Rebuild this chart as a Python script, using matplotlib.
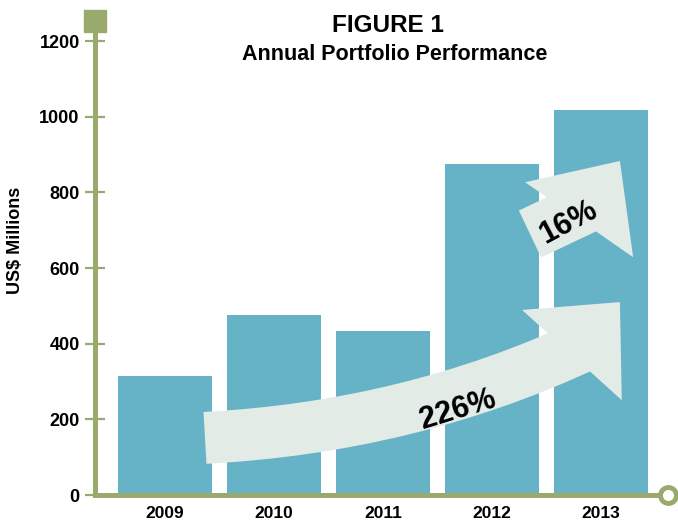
import matplotlib
matplotlib.use('Agg')
import matplotlib.pyplot as plt
from matplotlib.patches import FancyArrowPatch

years = ['2009', '2010', '2011', '2012', '2013']
values = [315, 476, 433, 875, 1018]
yticks = [0, 200, 400, 600, 800, 1000, 1200]
growth_labels = ['226%', '16%']

plt.rcParams['font.family'] = ['Liberation Sans', 'DejaVu Sans']
plt.rcParams['font.weight'] = 'bold'

bar_col = '#66B2C6'
green = '#9AAA6C'
arrow_col = '#E2EBE6'

fig = plt.figure(figsize=(6.78, 5.21), dpi=100)
ax = fig.add_axes([95/678, 26/521, (668-95)/678, (495-21)/521])

x = list(range(len(years)))
ax.bar(x, values, width=0.86, color=bar_col, zorder=1)
ax.set_xlim(-0.642, 4.615)
ax.set_ylim(0, 1253)

for s in ['top', 'right']:
    ax.spines[s].set_visible(False)
for s in ['left', 'bottom']:
    ax.spines[s].set_color(green)
    ax.spines[s].set_linewidth(3.6)
    ax.spines[s].set_zorder(3)

ax.set_yticks(yticks)
ax.set_yticklabels([str(t) for t in yticks], fontsize=13, fontweight='bold')
ax.tick_params(axis='y', direction='inout', length=14, width=1.6, color=green, pad=4)
ax.set_xticks(x)
ax.set_xticklabels(years, fontsize=12.5, fontweight='bold')
ax.tick_params(axis='x', length=0, pad=8)

# axis end decorations
ax.plot([0], [1], marker='s', ms=16, color=green, transform=ax.transAxes,
        clip_on=False, zorder=4)
ax.plot([1], [0], marker='o', ms=11.5, mfc='white', mec=green, mew=3.5,
        transform=ax.transAxes, clip_on=False, zorder=4)


def growth_arrow(start, neck, head_base, tip, conn, head_w):
    # thick shaft + a separate straight triangular head
    shaft = FancyArrowPatch(start, neck, arrowstyle='-', connectionstyle=conn,
                            shrinkA=0, shrinkB=0, color=arrow_col, lw=37.4,
                            capstyle='butt', zorder=2)
    ax.add_patch(shaft)
    head = FancyArrowPatch(head_base, tip,
                           arrowstyle='simple,head_length=51.5,head_width=%g,tail_width=1' % head_w,
                           mutation_scale=1, shrinkA=0, shrinkB=0,
                           color=arrow_col, lw=0, zorder=2)
    ax.add_patch(head)


growth_arrow((0.367, 151), (3.853, 396), (3.734, 370), (4.174, 510),
             'angle3,angleA=3,angleB=25', 96.8)
growth_arrow((3.349, 690), (3.853, 759), (3.798, 727), (4.174, 883),
             'arc3,rad=0', 94.7)

ax.text(2.688, 225, growth_labels[0], fontsize=22, fontweight='bold',
        rotation=17, ha='center', va='center', zorder=5)
ax.text(3.697, 719, growth_labels[1], fontsize=22, fontweight='bold',
        rotation=28, ha='center', va='center', zorder=5)

fig.text(388/678, 1 - 32/521, 'FIGURE 1', fontsize=17.5, fontweight='bold',
         ha='center', va='baseline')
fig.text(395/678, 1 - 60/521, 'Annual Portfolio Performance', fontsize=15.5,
         fontweight='bold', ha='center', va='baseline')
fig.text(16/678, 1 - 240/521, 'US$ Millions', fontsize=13, fontweight='bold',
         rotation=90, ha='center', va='center')

fig.savefig('out.png', dpi=100)
